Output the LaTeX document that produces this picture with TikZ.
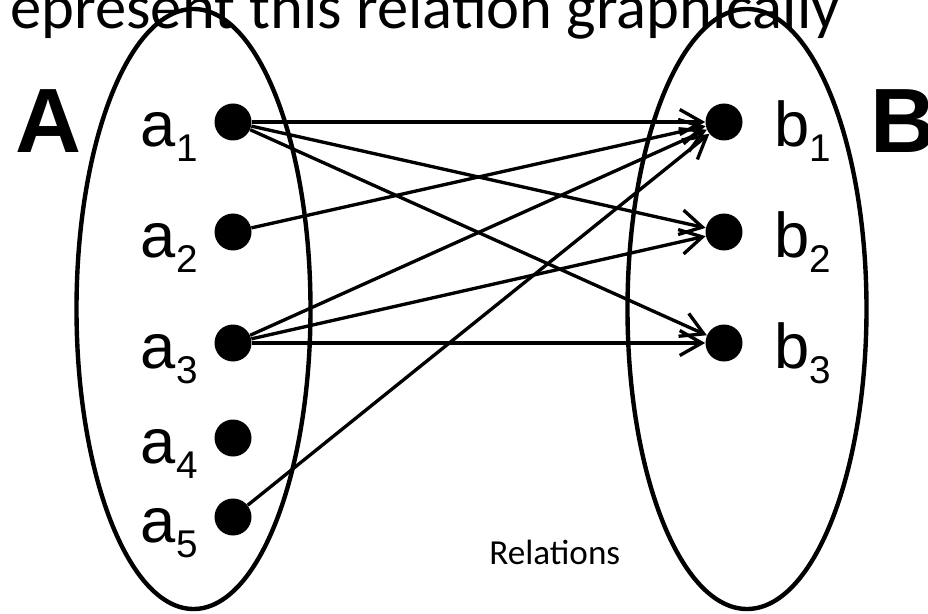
\documentclass[tikz,border=0pt]{standalone}
\usepackage{fontspec}
\setmainfont{Liberation Sans}
\newfontfamily\slidefont{Carlito}
\usetikzlibrary{calc,arrows.meta}
\newcommand{\elsub}[1]{\raisebox{-0.3cm}{\fontsize{22pt}{22pt}\selectfont #1}}
\tikzset{
    elem/.style={circle, fill=black, inner sep=0pt, minimum size=0.74cm},
    lbl/.style={inner sep=0pt, font=\fontsize{36pt}{36pt}\selectfont},
    setname/.style={inner sep=0pt, font=\bfseries\fontsize{52pt}{52pt}\selectfont},
    maps/.style={line width=1.9pt, -{Straight Barb[length=0.44cm,width=0.5cm]}},
    setline/.style={line width=2.5pt}
}

\begin{document}
\begin{tikzpicture}
\clip (0,0) rectangle (18.56,12.26);
\fill[white] (0,0) rectangle (18.56,12.26);

\node[inner sep=0pt, anchor=base west, font=\slidefont\fontsize{35.6pt}{35.6pt}\selectfont] (title) at (0.2,11.68) {epresent this relation graphically};

\draw[setline] (3.87,6.08) ellipse [x radius=2.34, y radius=6.0];
\draw[setline] (14.94,6.08) ellipse [x radius=2.39, y radius=6.0];

\node[setname, anchor=base west] (setA) at (0.3,9.2) {A};
\node[setname, anchor=base west] (setB) at (17.4,9.2) {B};

\node[elem] (a1) at (4.66,9.82) {};
\node[elem] (a2) at (4.66,7.62) {};
\node[elem] (a3) at (4.66,5.40) {};
\node[elem] (a4) at (4.66,3.50) {};
\node[elem] (a5) at (4.66,1.92) {};

\node[elem] (b1) at (14.48,9.82) {};
\node[elem] (b2) at (14.48,7.62) {};
\node[elem] (b3) at (14.48,5.40) {};
%%
\node[lbl, anchor=base east] (la1) at ($(a1)+(-0.7,-0.5)$) {a\elsub{1}};
\node[lbl, anchor=base east] (la2) at ($(a2)+(-0.7,-0.5)$) {a\elsub{2}};
\node[lbl, anchor=base east] (la3) at ($(a3)+(-0.7,-0.5)$) {a\elsub{3}};
\node[lbl, anchor=base east] (la4) at ($(a4)+(-0.7,-0.5)$) {a\elsub{4}};
\node[lbl, anchor=base east] (la5) at ($(a5)+(-0.7,-0.5)$) {a\elsub{5}};

\node[lbl, anchor=base west] (lb1) at ($(b1)+(1.0,-0.5)$) {b\elsub{1}};
\node[lbl, anchor=base west] (lb2) at ($(b2)+(1.0,-0.5)$) {b\elsub{2}};
\node[lbl, anchor=base west] (lb3) at ($(b3)+(1.0,-0.5)$) {b\elsub{3}};
%%
\draw[maps] (a1) -- (b1);
\draw[maps] (a1) -- (b2);
\draw[maps] (a1) -- (b3);
\draw[maps] (a2) -- (b1);
\draw[maps] (a3) -- (b1);
\draw[maps] (a3) -- (b2);
\draw[maps] (a3) -- (b3);
\draw[maps] (a5) -- (b1);

\node[inner sep=0pt, anchor=base west, font=\slidefont\fontsize{20pt}{20pt}\selectfont] (caption) at (9.78,0.98) {Relations};
\end{tikzpicture}
\end{document}
